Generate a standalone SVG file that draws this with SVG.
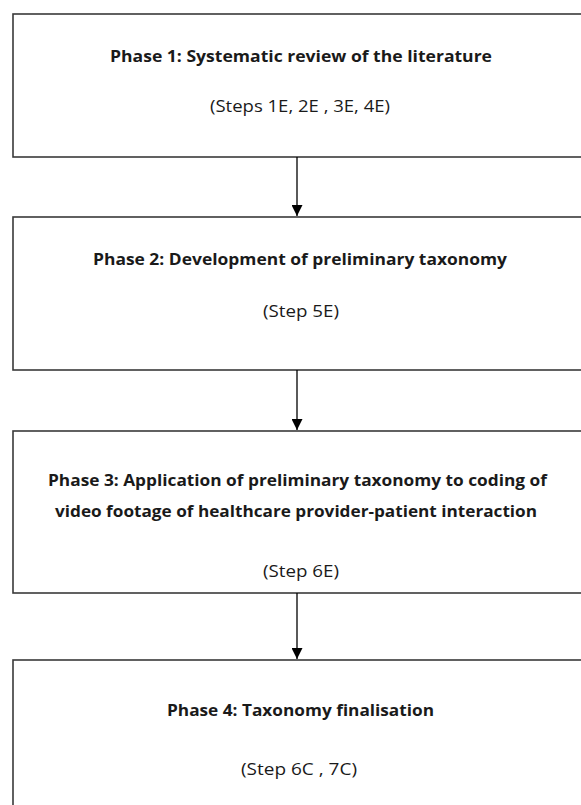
<svg xmlns="http://www.w3.org/2000/svg" width="581" height="805" viewBox="0 0 581 805">
<style>
.box{fill:#ffffff;stroke:#3a3a3a;stroke-width:1.6}
.t{font-family:"Open Sans","Liberation Sans",sans-serif;font-size:16.5px;font-weight:bold;fill:#1a1a1a;text-anchor:middle}
.s{font-family:"Open Sans","Liberation Sans",sans-serif;font-size:16px;fill:#1a1a1a;text-anchor:middle}
.c{stroke:#000;stroke-width:1.3;fill:none}
</style>
<defs>
<marker id="ah" markerUnits="userSpaceOnUse" markerWidth="11" markerHeight="11" refX="11" refY="5.5" orient="auto" viewBox="0 0 11 11">
<path d="M0,0 L11,5.5 L0,11 Z" fill="#000"/>
</marker>
</defs>
<rect width="581" height="805" fill="#ffffff"/>
<g id="node-phase1">
<rect class="box" x="13" y="14" width="590" height="143"/>
<text class="t" x="301" y="62" textLength="382" lengthAdjust="spacingAndGlyphs">Phase 1: Systematic review of the literature</text>
<text class="s" x="300" y="112" textLength="180" lengthAdjust="spacingAndGlyphs">(Steps 1E, 2E , 3E, 4E)</text>
</g>
<g id="node-phase2">
<rect class="box" x="13" y="217" width="590" height="153"/>
<text class="t" x="300" y="265" textLength="414" lengthAdjust="spacingAndGlyphs">Phase 2: Development of preliminary taxonomy</text>
<text class="s" x="301" y="317" textLength="76" lengthAdjust="spacingAndGlyphs">(Step 5E)</text>
</g>
<g id="node-phase3">
<rect class="box" x="13" y="431" width="590" height="162"/>
<text class="t" x="297.5" y="486" textLength="499" lengthAdjust="spacingAndGlyphs">Phase 3: Application of preliminary taxonomy to coding of</text>
<text class="t" x="296" y="517" textLength="482" lengthAdjust="spacingAndGlyphs">video footage of healthcare provider-patient interaction</text>
<text class="s" x="301" y="577" textLength="76" lengthAdjust="spacingAndGlyphs">(Step 6E)</text>
</g>
<g id="node-phase4">
<rect class="box" x="13" y="660" width="590" height="170"/>
<text class="t" x="300.5" y="716" textLength="267" lengthAdjust="spacingAndGlyphs">Phase 4: Taxonomy finalisation</text>
<text class="s" x="299" y="775" textLength="116" lengthAdjust="spacingAndGlyphs">(Step 6C , 7C)</text>
</g>
<g id="connectors">
<line class="c" x1="297" y1="157" x2="297" y2="216" marker-end="url(#ah)"/>
<line class="c" x1="297" y1="370" x2="297" y2="430" marker-end="url(#ah)"/>
<line class="c" x1="297" y1="593" x2="297" y2="659" marker-end="url(#ah)"/>
</g>
</svg>
